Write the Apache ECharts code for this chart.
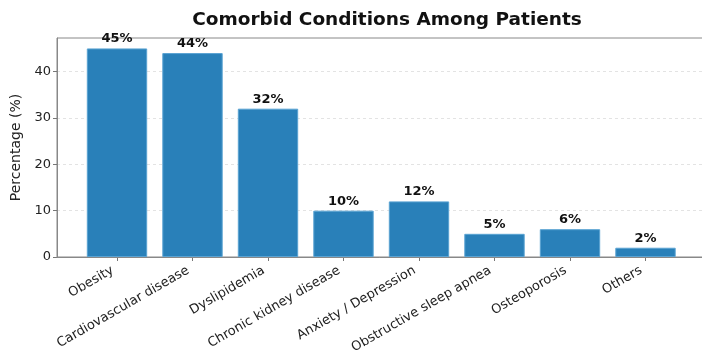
<!DOCTYPE html>
<html>
<head>
<meta charset="utf-8">
<script src="https://cdn.jsdelivr.net/npm/echarts@6/dist/echarts.min.js"></script>
<style>
  html, body { margin: 0; padding: 0; background: #fff; }
  #chart { width: 702px; height: 350px; }
</style>
</head>
<body>
<div id="chart"></div>
<script>
// data
const categories = [
  'Obesity',
  'Cardiovascular disease',
  'Dyslipidemia',
  'Chronic kidney disease',
  'Anxiety / Depression',
  'Obstructive sleep apnea',
  'Osteoporosis',
  'Others'
]
const percentages = [45, 44, 32, 10, 12, 5, 6, 2]
const yTicks = [0, 10, 20, 30, 40]

const FONT = 'DejaVu Sans'
const Y_MAX = 47.25

const chart = echarts.init(document.getElementById('chart'))

const option = {
  animation: false,
  title: {
    text: 'Comorbid Conditions Among Patients',
    left: 382,
    textAlign: 'center',
    top: 6,
    textStyle: { fontFamily: FONT, fontSize: 18.5, fontWeight: 'bold', color: '#111' }
  },
  grid: [
    // frame (spines + y axis)
    { left: 57, right: -3, top: 38, bottom: 93, outerBoundsMode: 'none', show: true, borderColor: '#888', borderWidth: 1, backgroundColor: 'transparent' },
    // bars
    { left: 79.25, right: 18.75, top: 38, bottom: 93, outerBoundsMode: 'none' }
  ],
  xAxis: [
    {
      gridIndex: 0,
      type: 'value',
      min: 0,
      max: 1,
      z: 5,
      axisLine: { show: true, lineStyle: { color: '#888' } },
      axisTick: { show: false },
      axisLabel: { show: false },
      splitLine: { show: false }
    },
    {
      gridIndex: 1,
      type: 'category',
      data: categories,
      axisLine: { show: false },
      axisTick: { show: true, alignWithLabel: true, length: 4, lineStyle: { color: '#777' } },
      axisLabel: {
        rotate: 30,
        interval: 0,
        margin: 10,
        padding: [0, 5, 0, 0],
        fontFamily: FONT,
        fontSize: 13,
        color: '#222'
      }
    }
  ],
  yAxis: [
    {
      gridIndex: 0,
      type: 'value',
      min: 0,
      max: Y_MAX,
      interval: 10,
      name: 'Percentage (%)',
      nameLocation: 'middle',
      nameGap: 34,
      nameTextStyle: { fontFamily: FONT, fontSize: 14, color: '#222' },
      axisLine: { show: true, lineStyle: { color: '#888' } },
      axisTick: { show: true, length: 4, customValues: yTicks, lineStyle: { color: '#777' } },
      axisLabel: {
        fontFamily: FONT,
        fontSize: 13,
        color: '#222',
        margin: 6,
        customValues: yTicks
      },
      splitLine: { show: true, lineStyle: { color: '#e3e3e3', type: [3, 3], width: 1 } }
    },
    { gridIndex: 1, type: 'value', min: 0, max: Y_MAX, show: false }
  ],
  series: [
    {
      type: 'bar',
      xAxisIndex: 1,
      yAxisIndex: 1,
      data: percentages,
      barWidth: '80%',
      itemStyle: { color: '#2980b9', borderColor: '#5aa3d3', borderWidth: 1 },
      label: {
        show: true,
        position: 'top',
        distance: 3,
        formatter: p => p.value + '%',
        fontFamily: FONT,
        fontSize: 13,
        fontWeight: 'bold',
        color: '#111'
      }
    }
  ]
}

chart.setOption(option)
</script>
</body>
</html>
